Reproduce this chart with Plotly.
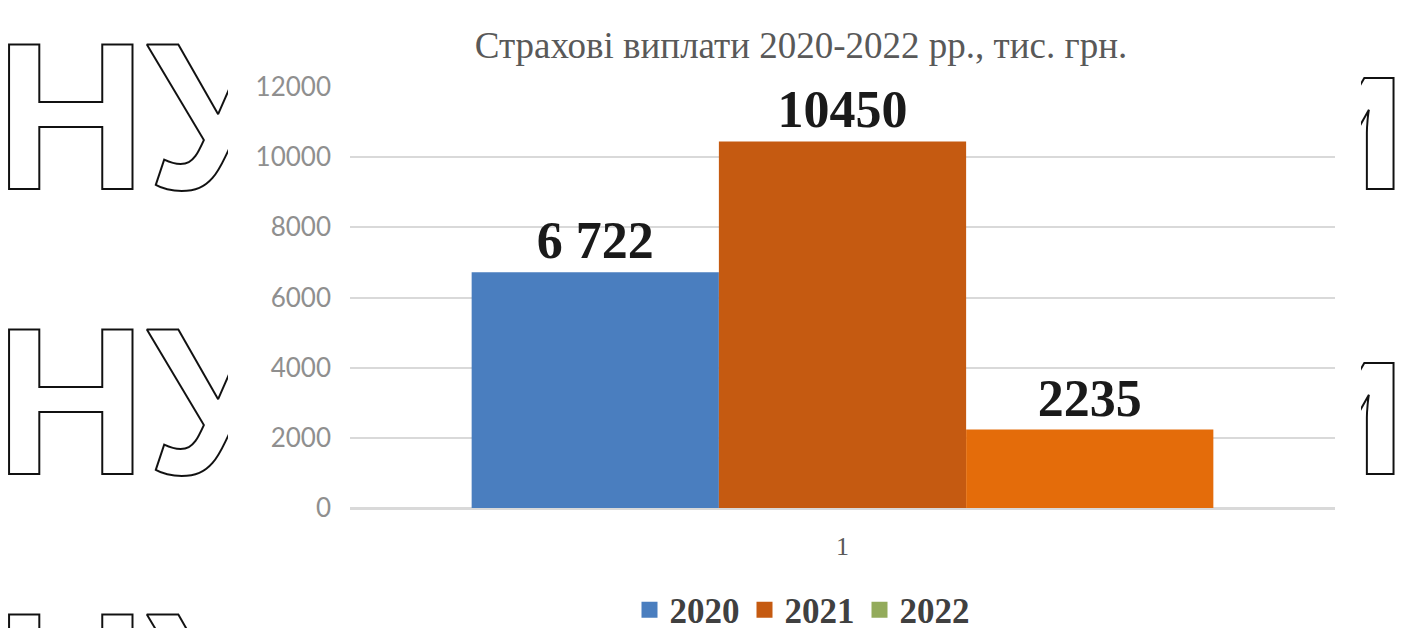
import plotly.graph_objects as go

# ---- data ----
categories = ["1"]
years = ["2020", "2021", "2022"]
values = [6722, 10450, 2235]
labels = ["6 722", "10450", "2235"]
bar_colors = ["#4A7EBF", "#C55A11", "#E46C0A"]
legend_colors = ["#4A7EBF", "#C55A11", "#93AB5B"]
y_ticks = [0, 2000, 4000, 6000, 8000, 10000, 12000]
title_text = "Страхові виплати 2020-2022 рр., тис. грн."

W, H = 1406, 628
fig = go.Figure()

for i, yr in enumerate(years):
    fig.add_trace(go.Bar(
        x=categories, y=[values[i]], name=yr,
        marker=dict(color=bar_colors[i], line=dict(width=0)),
        text=[labels[i]], textposition="outside", cliponaxis=False,
        textfont=dict(family="Liberation Serif", size=52, color="#1a1a1a", weight="bold"),
        showlegend=False, xaxis="x", yaxis="y",
    ))

# legend entries (the original legend shows its own colours, square markers)
for i, yr in enumerate(years):
    fig.add_trace(go.Scatter(x=[None], y=[None], name=yr, mode="markers",
                             marker=dict(symbol="square", size=17, color=legend_colors[i]),
                             xaxis="x2", yaxis="y2", showlegend=True))

# ---- watermark (outlined text partially visible behind the chart picture) ----
wm_style = '<span style="fill:white;stroke:#111111;stroke-width:2px">%s</span>'
wm_font = dict(family="Liberation Sans", size=210, weight="bold")
rows = [136, 421, 706]
fig.add_trace(go.Scatter(x=[-5] * 3, y=rows, mode="text",
                         text=[wm_style % "НУБіП"] * 3, textposition="middle right",
                         textfont=wm_font, cliponaxis=True, showlegend=False,
                         hoverinfo="skip", xaxis="x2", yaxis="y2"))
fig.add_trace(go.Scatter(x=[1408] * 3, y=rows, mode="text",
                         text=[wm_style % "України"] * 3, textposition="middle left",
                         textfont=wm_font, cliponaxis=True, showlegend=False,
                         hoverinfo="skip", xaxis="x3", yaxis="y3"))

fig.update_layout(
    width=W, height=H,
    margin=dict(l=0, r=0, t=0, b=0, pad=0, autoexpand=False),
    paper_bgcolor="white", plot_bgcolor="white",
    title=dict(text=title_text, x=801 / W, xanchor="center", y=1 - 45 / H,
               yanchor="middle", xref="paper", yref="container",
               font=dict(family="Liberation Serif", size=37, color="#595959")),
    barmode="group", bargap=0.247, bargroupgap=0,
    xaxis=dict(domain=[350 / W, 1335 / W], type="category",
               showgrid=False, showline=True, linecolor="#d9d9d9", linewidth=1.5,
               ticks="", ticklabelstandoff=14,
               tickfont=dict(family="Liberation Serif", size=26, color="#595959")),
    yaxis=dict(domain=[120 / H, 541 / H], range=[0, 12000], tickvals=y_ticks,
               tickformat="d", showgrid=True, gridcolor="#d9d9d9", gridwidth=1.5,
               zeroline=True, zerolinecolor="#d9d9d9", zerolinewidth=1.5,
               showline=False, ticks="", ticklabelstandoff=18,
               tickfont=dict(family="Lato", size=26, color="#8f8f8f")),
    xaxis2=dict(domain=[0, 228 / W], range=[0, 228], visible=False, anchor="y2", fixedrange=True),
    yaxis2=dict(domain=[0, 1], range=[H, 0], visible=False, anchor="x2", fixedrange=True),
    xaxis3=dict(domain=[1361 / W, 1], range=[1361, W], visible=False, anchor="y3", fixedrange=True),
    yaxis3=dict(domain=[0, 1], range=[H, 0], visible=False, anchor="x3", fixedrange=True),
    legend=dict(orientation="h", x=802 / W, xanchor="center", y=1 - 610 / H,
                yanchor="middle", traceorder="normal", itemsizing="trace",
                font=dict(family="Liberation Serif", size=35, color="#404040", weight="bold"),
                itemwidth=30, bgcolor="rgba(0,0,0,0)"),
    showlegend=True,
)

fig.write_html("out.html")
